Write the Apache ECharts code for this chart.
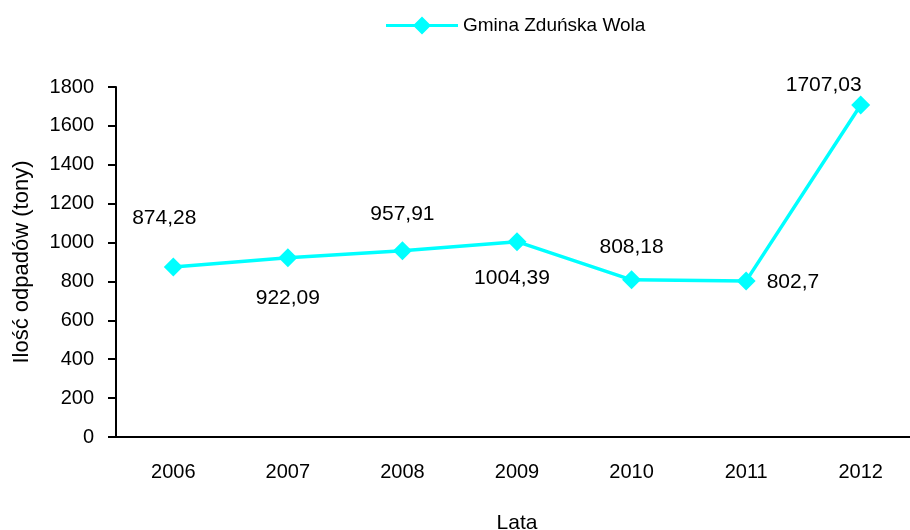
<!DOCTYPE html>
<html lang="pl">
<head>
    <meta charset="UTF-8">
    <title>Gmina Zduńska Wola</title>
    <script src="https://cdn.jsdelivr.net/npm/echarts@6/dist/echarts.min.js"></script>
</head>
<body style="margin:0;">
<div id="chart" style="width:910px;height:530px;"></div>
<script type="text/javascript">
    // dane z wykresu
    var years = ['2006', '2007', '2008', '2009', '2010', '2011', '2012'];
    var values = [874.28, 922.09, 957.91, 1004.39, 808.18, 802.7, 1707.03];
    var seriesName = 'Gmina Zduńska Wola';

    // gdzie stoi etykieta przy punkcie
    var labelPlace = [
        {position: 'inside', offset: [-9, -49]},
        {position: 'inside', offset: [0, 40]},
        {position: 'inside', offset: [0, -37]},
        {position: 'inside', offset: [-5, 37]},
        {position: 'inside', offset: [0, -33]},
        {position: 'right', distance: 11, offset: [0, 1]},
        {position: 'inside', offset: [-37, -20]}
    ];

    var font = "'Liberation Sans', Arial, sans-serif";
    var fs = 20;

    var fmt = function (v) {
        return String(v).replace('.', ',');
    };

    var points = [];
    for (var i = 0; i < values.length; i++) {
        var lp = labelPlace[i];
        points.push({
            value: values[i],
            label: {
                position: lp.position,
                offset: lp.offset,
                distance: lp.distance || 5
            }
        });
    }

    var chart = echarts.init(document.getElementById('chart'));
    var option = {
        backgroundColor: '#fff',
        animation: false,
        textStyle: {fontFamily: font},
        legend: {
            top: 11,
            left: 381,
            itemWidth: 72,
            itemHeight: 18,
            itemGap: 8,
            icon: 'path://M0,7.5 L72,7.5 L72,10.5 L0,10.5 Z M27,9 L36,0 L45,9 L36,18 Z',
            textStyle: {fontFamily: font, fontSize: 19, color: '#000'},
            data: [seriesName]
        },
        grid: {left: 116, right: -8, top: 87, bottom: 93, containLabel: false, outerBoundsMode: 'none'},
        xAxis: {
            type: 'category',
            data: years,
            boundaryGap: true,
            name: 'Lata',
            nameLocation: 'middle',
            nameGap: 76,
            nameTextStyle: {fontFamily: font, fontSize: 21, color: '#000'},
            axisLine: {lineStyle: {color: '#000', width: 2}},
            axisTick: {length: 8, lineStyle: {color: '#000', width: 2}},
            axisLabel: {margin: 25, fontFamily: font, fontSize: fs, color: '#000'},
            splitLine: {show: false}
        },
        yAxis: {
            type: 'value',
            min: 0,
            max: 1800,
            interval: 200,
            name: 'Ilość odpadów (tony)',
            nameLocation: 'middle',
            nameGap: 83,
            nameTextStyle: {fontFamily: font, fontSize: 22, color: '#000'},
            axisLine: {show: true, lineStyle: {color: '#000', width: 2}},
            axisTick: {show: true, length: 8, lineStyle: {color: '#000', width: 2}},
            axisLabel: {
                margin: 22, fontFamily: font, fontSize: fs, color: '#000',
                formatter: function (v) { return String(v); }
            },
            splitLine: {show: false}
        },
        series: [
            {
                name: seriesName,
                type: 'line',
                data: points,
                symbol: 'diamond',
                symbolSize: 19,
                lineStyle: {color: '#00FFFF', width: 3.5},
                itemStyle: {color: '#00FFFF'},
                label: {
                    show: true,
                    fontFamily: font,
                    fontSize: 21,
                    color: '#000',
                    formatter: function (p) {
                        return fmt(p.value);
                    }
                }
            }
        ]
    };
    chart.setOption(option);
</script>
</body>
</html>
